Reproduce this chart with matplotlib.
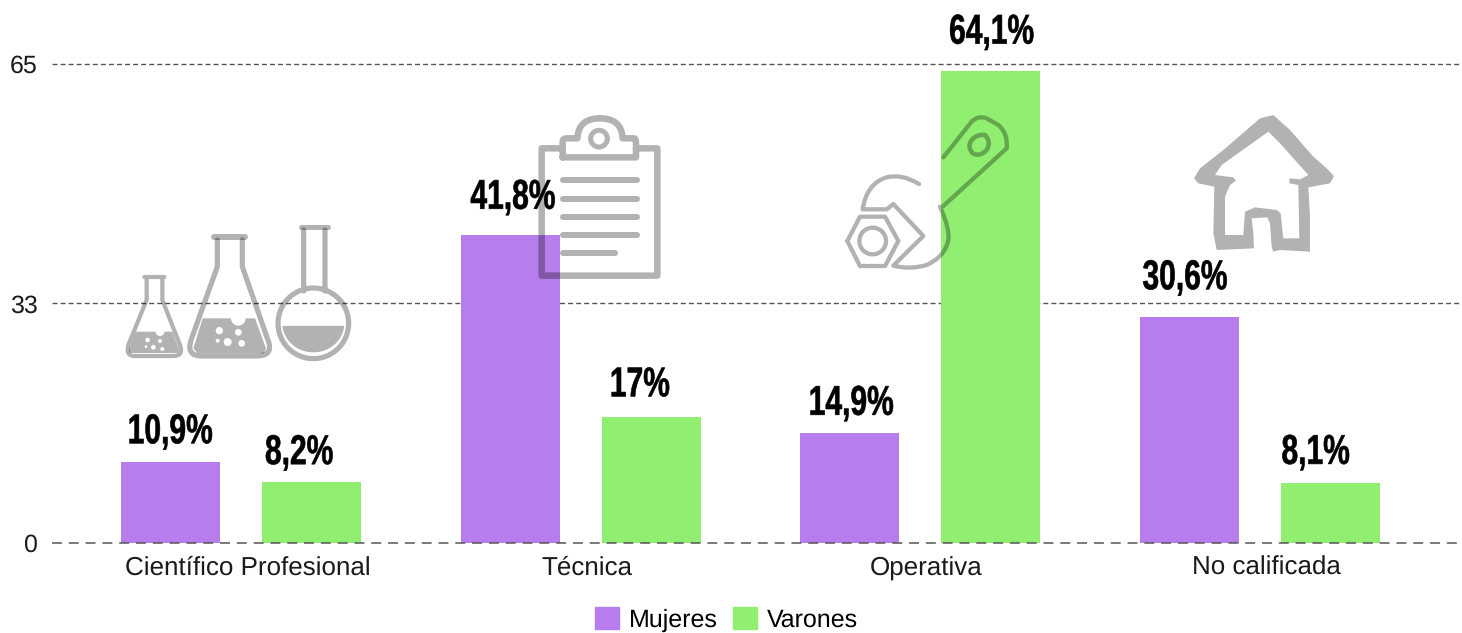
import numpy as np
import matplotlib
matplotlib.use("Agg")
import matplotlib.pyplot as plt
from matplotlib.path import Path
from matplotlib.patches import PathPatch, Polygon, Circle, Patch
from matplotlib.patheffects import AbstractPathEffect
from matplotlib.transforms import Affine2D, ScaledTranslation

categories = ["Científico Profesional", "Técnica", "Operativa", "No calificada"]
mujeres = [10.9, 41.8, 14.9, 30.6]
varones = [8.2, 17, 64.1, 8.1]
y_ticks = [0, 32.5, 65]
y_tick_labels = ["0", "33", "65"]

# label nudges in pixels (styling only)
gap_m, shift_m = [19, 26, 18, 28], [0, 3.5, 2, -3.5]
gap_v, shift_v = [18, 21, 27, 19], [-12, -11, 1.5, -14]

PURPLE = "#b87dec"
GREEN = "#90ee70"
W, H = 1462, 633
plt.rcParams["font.family"] = ["Liberation Sans", "DejaVu Sans"]
plt.rcParams["text.hinting"] = "none"
plt.rcParams["text.hinting_factor"] = 1


class Condense(AbstractPathEffect):
    """Squeeze text horizontally about its centre and thicken it."""

    def __init__(self, sx, extra):
        super().__init__()
        self.sx, self.extra = sx, extra

    def draw_path(self, renderer, gc, tpath, affine, rgbFace=None):
        bb = tpath.transformed(affine).get_extents()
        cx = (bb.x0 + bb.x1) / 2
        new = affine + Affine2D().translate(-cx, 0).scale(self.sx, 1).translate(cx, 0)
        g = renderer.new_gc()
        g.copy_properties(gc)
        g.set_linewidth(self.extra)
        g.set_foreground("black")
        renderer.draw_path(g, tpath, new, rgbFace)
        g.restore()


fig = plt.figure(figsize=(W / 100, H / 100), dpi=100)
y0, y65 = 542.5, 64.0
ax = fig.add_axes([52 / W, 1 - y0 / H, (W - 52) / W, (y0 - y65) / H])
x = np.arange(len(categories))
ax.set_xlim((52 - 241) / 339.5, (W - 241) / 339.5)
ax.set_ylim(0, 65)
bw, off = 99 / 339.5, 70.5 / 339.5
b1 = ax.bar(x - off, mujeres, bw, color=PURPLE, zorder=3, label="Mujeres")
b2 = ax.bar(x + off, varones, bw, color=GREEN, zorder=3, label="Varones")
for s in ax.spines.values():
    s.set_visible(False)
ax.set_xticks(x, categories, fontsize=18.6, color="#1a1a1a")
ax.set_yticks(y_ticks, y_tick_labels, fontsize=18.3, color="#1a1a1a")
ax.tick_params(length=0)
ax.tick_params(axis="x", pad=10)
ax.tick_params(axis="y", pad=10.5)
shift = ScaledTranslation(6.5 / 100, 0, fig.dpi_scale_trans)
for lbl in ax.get_xticklabels():
    lbl.set_transform(lbl.get_transform() + shift)
for t in y_ticks:
    if t == 0:
        ax.axhline(t, color="#555555", lw=1.1, dashes=(6.5, 4.5), zorder=4, clip_on=False)
    else:
        ax.axhline(t, color="#555555", lw=1.0, dashes=(3.6, 2.2), zorder=1, clip_on=False)

for bars, vals, gaps, shifts in ((b1, mujeres, gap_m, shift_m), (b2, varones, gap_v, shift_v)):
    for r, v, g, s in zip(bars, vals, gaps, shifts):
        ax.annotate(f"{v:g}%".replace(".", ","), (r.get_x() + r.get_width() / 2, v),
                    xytext=(s * 0.72, g * 0.72), textcoords="offset points", ha="center", va="baseline",
                    fontsize=30, fontweight="bold", color="black", zorder=6,
                    path_effects=[Condense(0.72, 0.45)])

fig.legend(handles=[Patch(color=PURPLE, label="Mujeres"), Patch(color=GREEN, label="Varones")],
           loc="center", bbox_to_anchor=(726.5 / W, 1 - 619.5 / H), ncol=2, frameon=False,
           fontsize=18, handlelength=0.96, handleheight=0.96, handletextpad=0.38,
           columnspacing=0.6, borderpad=0, borderaxespad=0)

# Decorative icons, overlaid in pixel space
ov = fig.add_axes([0, 0, 1, 1], zorder=5)
ov.set_xlim(0, W)
ov.set_ylim(H, 0)
ov.axis("off")
ov.patch.set_alpha(0)
M, L, Q = Path.MOVETO, Path.LINETO, Path.CURVE3


def conv(origin):
    return lambda pts: [(origin[0] + a / 3, origin[1] + b / 3) for a, b in pts]


def stroke(subpaths, origin, lw):
    vs, cs = [], []
    f = conv(origin)
    for sub in subpaths:
        for i, p in enumerate(sub):
            vs.append(f([p[:2]])[0])
            cs.append(M if i == 0 else (Q if len(p) == 3 else L))
    ov.add_patch(PathPatch(Path(vs, cs), fill=False, edgecolor="black", alpha=0.3,
                           lw=lw * 0.72, capstyle="round", joinstyle="round"))


def ring(cx, cy, r, n=60):
    a = np.linspace(0, 2 * np.pi, n)
    return [(cx + r * np.cos(t), cy + r * np.sin(t)) for t in a]


def fill(pts, origin):
    ov.add_patch(Polygon(conv(origin)(pts), closed=True, facecolor="black", alpha=0.3, edgecolor="none"))


def white(cx, cy, r, origin):
    ov.add_patch(Circle(conv(origin)([(cx, cy)])[0], r / 3, facecolor="white", edgecolor="none"))


# Flasks
o = (110, 210)
stroke([[(110, 207), (110, 270), (55, 405), (45, 438, "q"), (75, 438), (190, 438),
         (222, 438, "q"), (210, 405), (157, 270), (157, 207)],
        [(103, 201), (163, 201)]], o, 4.2)
fill([(78, 365), (187, 365), (207, 418), (205, 428), (195, 429), (70, 429), (58, 428), (57, 418)], o)
white(150, 365, 13, o)
for c in [(113, 390, 7), (150, 393, 6), (130, 412, 7), (157, 417, 6), (108, 410, 4)]:
    white(*c, o)

stroke([[(322, 90), (322, 170), (245, 385), (225, 438, "q"), (275, 438), (440, 438),
         (495, 438, "q"), (472, 385), (397, 170), (397, 90)]], o, 5.2)
stroke([[(312, 82), (406, 82)]], o, 6)
fill([(278, 325), (435, 325), (468, 415), (462, 430), (262, 430), (250, 415)], o)
white(385, 325, 22, o)
for c in [(328, 362, 11), (385, 367, 10), (353, 396, 12), (395, 400, 10), (323, 392, 6)]:
    white(*c, o)

stroke([[(581, 60), (581, 243)], [(645, 60), (645, 243)], ring(610, 340, 106)], o, 5.2)
stroke([[(572, 52), (655, 52)]], o, 5)
ang = np.linspace(np.radians(5), np.radians(175), 40)
fill([(610 + 93 * np.cos(t), 340 + 87 * np.sin(t)) for t in ang], o)

# Clipboard
o = (450, 100)
stroke([[(338, 145), (275, 145), (275, 527), (622, 527), (622, 145), (558, 145)],
        [(338, 172), (338, 125), (338, 115, "q"), (350, 115), (382, 115), (385, 55, "q"), (450, 55),
         (515, 55, "q"), (518, 115), (550, 115), (558, 115, "q"), (558, 125), (558, 172), (338, 172)]], o, 6.5)
stroke([ring(447, 116, 25)], o, 5)
stroke([[(338, 241), (560, 241)], [(338, 296), (560, 296)], [(338, 350), (560, 350)],
        [(338, 405), (560, 405)], [(338, 460), (495, 460)]], o, 6)

# Wrench
o = (830, 100)
stroke([[(340, 172), (425, 65), (445, 45, "q"), (470, 55), (505, 75), (535, 100, "q"), (530, 145),
         (340, 318)],
        [(330, 320), (360, 385, "q"), (355, 420), (345, 470, "q"), (290, 495), (240, 510, "q"), (190, 497),
         (280, 408), (190, 312), (170, 328), (98, 328), (110, 250, "q"), (170, 232), (215, 220, "q"), (267, 252)],
        [(52, 423), (90, 350), (165, 350), (205, 423), (165, 498), (90, 498), (52, 423)]], o, 4.3)
stroke([ring(128, 423, 40)], o, 4.3)
stroke([[(425, 120), (440, 102, "q"), (465, 105), (485, 125, "q"), (470, 150), (450, 172, "q"), (428, 160),
         (410, 140, "q"), (425, 120)]], o, 4.5)

# House
o = (1180, 100)
outer = [(42, 235), (60, 205), (130, 150), (240, 55), (280, 45), (330, 90), (400, 170), (440, 205), (462, 228),
         (450, 250), (385, 262), (390, 350), (390, 455), (300, 450), (280, 455), (275, 440), (270, 370), (262, 352),
         (215, 355), (220, 400), (222, 445), (110, 450), (100, 400), (103, 260), (55, 250), (42, 235)]
inner = [(105, 225), (125, 195), (265, 95), (300, 130), (385, 225), (360, 238), (328, 235), (328, 250), (355, 255),
         (358, 415), (310, 415), (302, 340), (290, 330), (225, 322), (195, 335), (190, 405), (135, 405), (135, 290),
         (150, 255), (168, 242), (160, 232), (105, 225)]
f = conv(o)
vs = f(outer) + f(inner[::-1])
cs = [M] + [L] * (len(outer) - 1) + [M] + [L] * (len(inner) - 1)
ov.add_patch(PathPatch(Path(vs, cs), facecolor="black", alpha=0.3, edgecolor="none"))

fig.savefig("out.png", dpi=100, facecolor="white")
